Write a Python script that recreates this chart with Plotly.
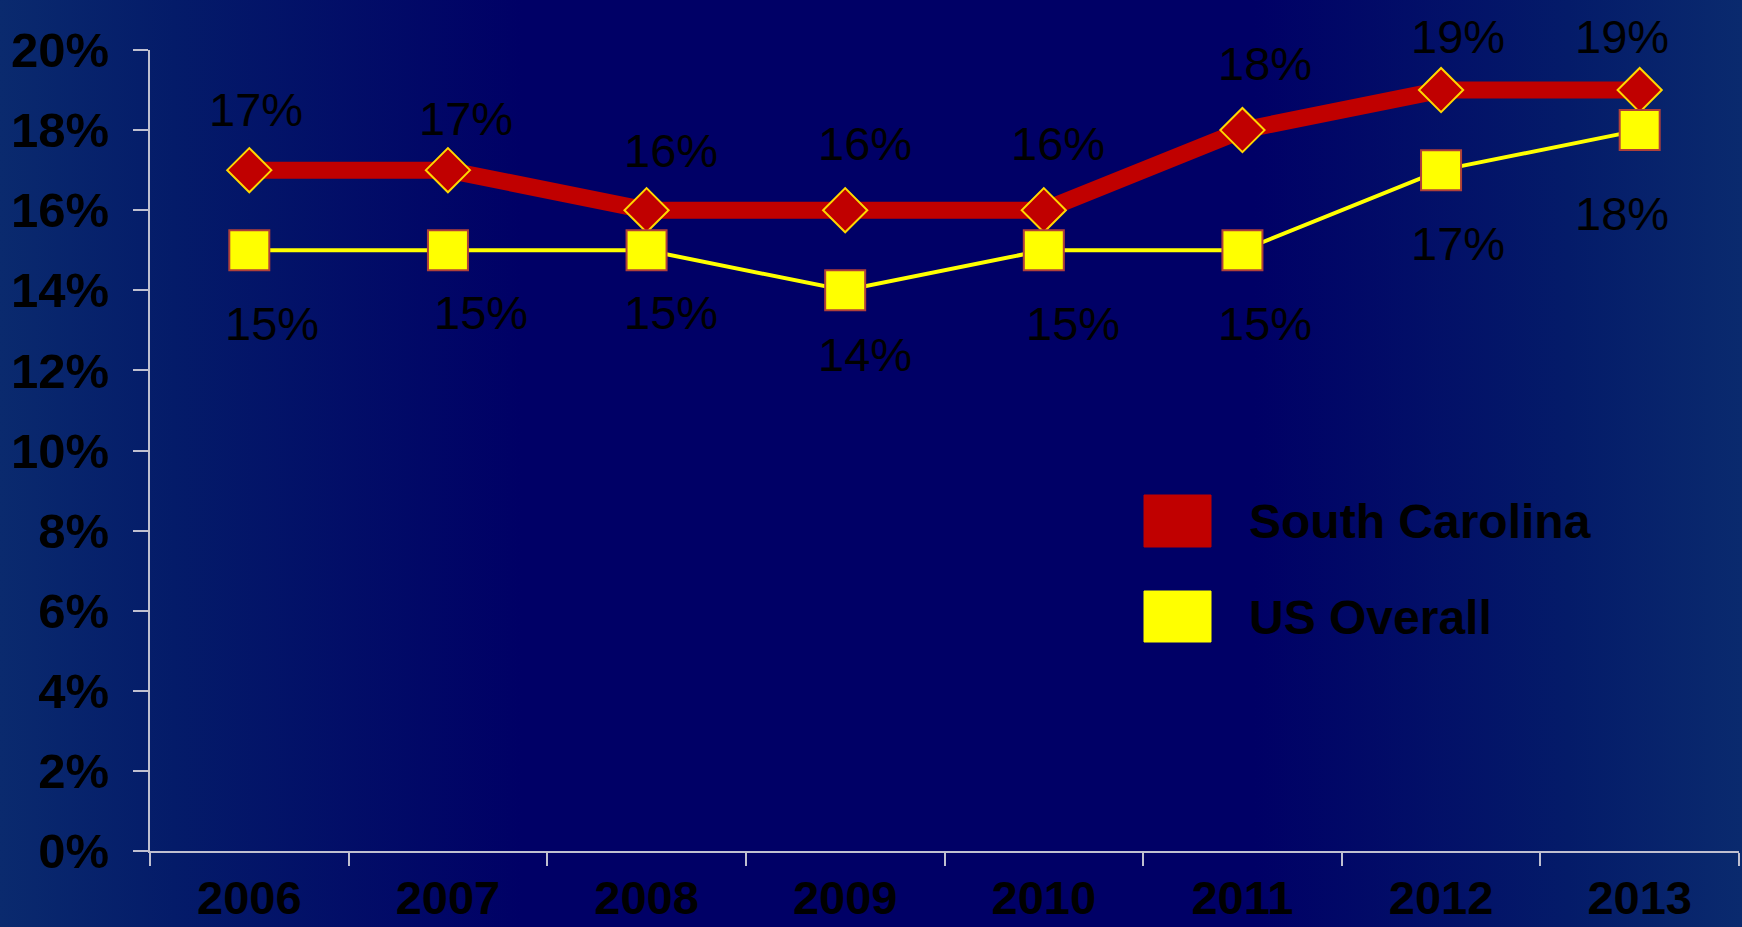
import base64
import plotly.graph_objects as go

# ---------------- data ----------------
years = ["2006", "2007", "2008", "2009", "2010", "2011", "2012", "2013"]
south_carolina = [0.17, 0.17, 0.16, 0.16, 0.16, 0.18, 0.19, 0.19]
us_overall = [0.15, 0.15, 0.15, 0.14, 0.15, 0.15, 0.17, 0.18]
y_ticks = [0.00, 0.02, 0.04, 0.06, 0.08, 0.10, 0.12, 0.14, 0.16, 0.18, 0.20]
series_names = ["South Carolina", "US Overall"]

# label offsets (pixels) relative to each point: (dx, dy-up)
sc_label_dx = [7, 18, 24, 20, 14, 23, 17, -18]
sc_label_dy = [61, 52, 60, 67, 67, 67, 54, 54]
us_label_dx = [23, 33, 24, 20, 29, 23, 17, -18]
us_label_dy = [-73, -62, -62, -64, -73, -73, -73, -83]

# ---------------- geometry ----------------
W, H = 1742, 927
ML, MR, MT, MB = 150, 3, 50, 76
PW, PH = W - ML - MR, H - MT - MB


def px(x):
    return (x - ML) / PW


def py(y):
    return (H - MB - y) / PH


# ---------------- background gradient ----------------
svg = f'''<svg xmlns="http://www.w3.org/2000/svg" width="{W}" height="{H}" viewBox="0 0 {W} {H}" preserveAspectRatio="none">
<defs><linearGradient id="g" x1="0" y1="0" x2="1" y2="0">
<stop offset="0" stop-color="#0a2a6e"/>
<stop offset="0.10" stop-color="#041b69"/>
<stop offset="0.30" stop-color="#000066"/>
<stop offset="0.72" stop-color="#000066"/>
<stop offset="0.90" stop-color="#041b69"/>
<stop offset="1" stop-color="#0a2a6e"/>
</linearGradient></defs>
<rect x="0" y="0" width="{W}" height="{H}" fill="url(#g)"/></svg>'''
bg_src = "data:image/svg+xml;base64," + base64.b64encode(svg.encode()).decode()

FONT = "Arial, Liberation Sans, sans-serif"
RED = "#C00000"
YEL = "#FFFF00"
AXIS = "#BFBFD0"

fig = go.Figure()
fig.add_trace(go.Scatter(
    x=years, y=south_carolina, mode="lines+markers", name=series_names[0],
    line=dict(color=RED, width=17),
    marker=dict(symbol="diamond", size=34, color=RED, line=dict(color="#FFD700", width=2)),
    showlegend=False,
))
fig.add_trace(go.Scatter(
    x=years, y=us_overall, mode="lines+markers", name=series_names[1],
    line=dict(color=YEL, width=4),
    marker=dict(symbol="square", size=40, color=YEL, line=dict(color="#B0403A", width=2)),
    showlegend=False,
))

annotations = []
for i, yr in enumerate(years):
    annotations.append(dict(
        x=i, y=south_carolina[i], xref="x", yref="y", text=f"{south_carolina[i]:.0%}",
        showarrow=False, xanchor="center", yanchor="middle",
        xshift=sc_label_dx[i], yshift=sc_label_dy[i],
        font=dict(family=FONT, size=47, color="black"),
    ))
    annotations.append(dict(
        x=i, y=us_overall[i], xref="x", yref="y", text=f"{us_overall[i]:.0%}",
        showarrow=False, xanchor="center", yanchor="middle",
        xshift=us_label_dx[i], yshift=us_label_dy[i],
        font=dict(family=FONT, size=47, color="black"),
    ))

# manual legend
shapes = []
legend_rows = [(RED, 495, 547, 521), (YEL, 591, 642, 617)]
for (col, y0, y1, yc), name in zip(legend_rows, series_names):
    shapes.append(dict(type="rect", xref="paper", yref="paper",
                       x0=px(1144), x1=px(1211), y0=py(y1), y1=py(y0),
                       fillcolor=col, line=dict(color=col, width=1), layer="above"))
    annotations.append(dict(x=px(1247), y=py(yc), xref="paper", yref="paper",
                            text=f"<b>{name}</b>", showarrow=False,
                            xanchor="left", yanchor="middle",
                            font=dict(family=FONT, size=48, color="black")))

fig.update_layout(
    width=W, height=H,
    margin=dict(l=ML, r=MR, t=MT, b=MB, pad=0, autoexpand=False),
    paper_bgcolor="#000066",
    plot_bgcolor="rgba(0,0,0,0)",
    images=[dict(source=bg_src, xref="paper", yref="paper", x=-ML / PW, y=1 + MT / PH,
                 sizex=W / PW, sizey=H / PH, sizing="stretch", layer="below",
                 xanchor="left", yanchor="top")],
    shapes=shapes,
    annotations=annotations,
    xaxis=dict(
        type="category", range=[-0.5, 7.5], showgrid=False, zeroline=False,
        showline=True, linecolor=AXIS, linewidth=2, automargin=False,
        ticks="outside", ticklen=13, tickwidth=2, tickcolor=AXIS, tickson="boundaries",
        tickfont=dict(family=FONT, size=47, color="black", weight="bold"),
        ticklabelstandoff=5,
    ),
    yaxis=dict(
        range=[0, 0.20], tickvals=y_ticks, tickformat=".0%", showgrid=False, zeroline=False,
        showline=True, linecolor=AXIS, linewidth=2, automargin=False,
        ticks="outside", ticklen=15, tickwidth=2, tickcolor=AXIS,
        tickfont=dict(family=FONT, size=49, color="black", weight="bold"),
        ticklabelstandoff=14,
    ),
)

fig.write_html(
    "out.html",
    config={"displayModeBar": False},
    post_script="document.body.style.margin='0';document.body.style.overflow='hidden';",
)
